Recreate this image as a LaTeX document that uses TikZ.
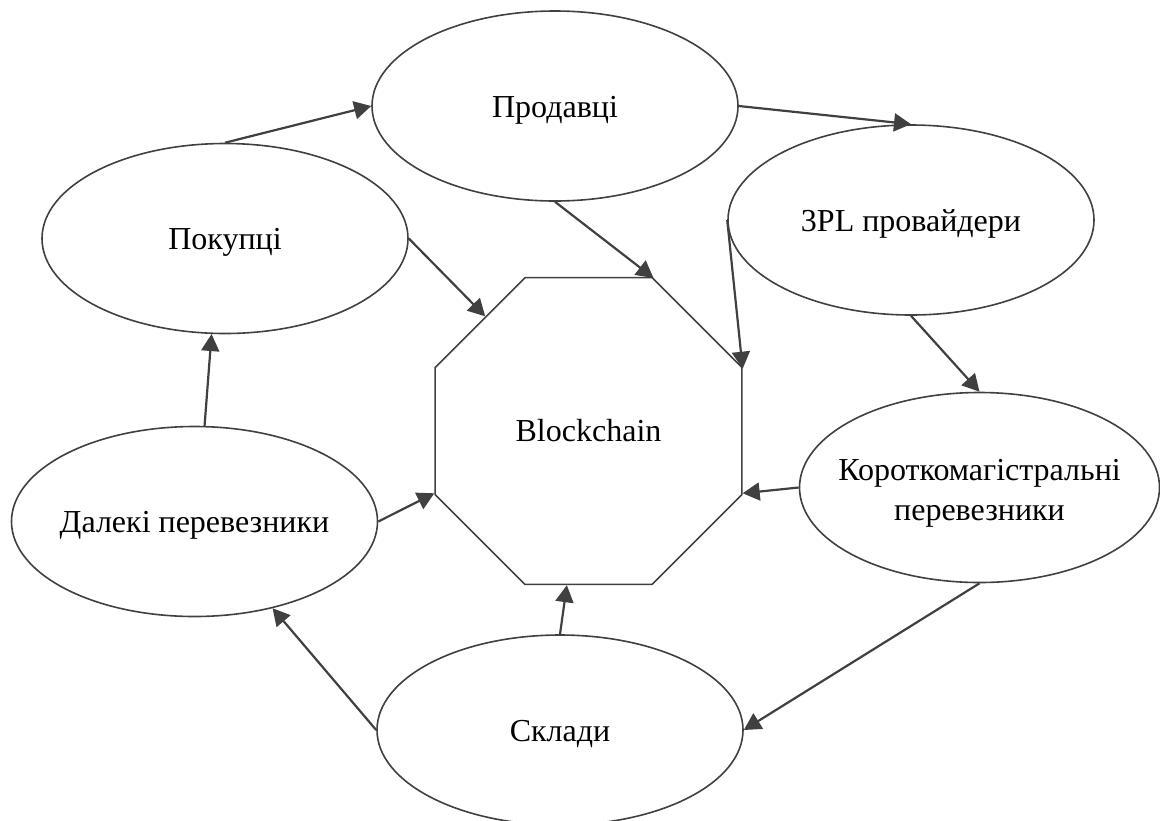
\documentclass[tikz,border=0pt]{standalone}
\usepackage{fontspec}
\setmainfont{Liberation Serif}
\usetikzlibrary{shapes.geometric,arrows.meta}
\definecolor{ln}{HTML}{404040}
\begin{document}
\begin{tikzpicture}[x=0.5pt,y=-0.5pt,
  ell/.style={ellipse,draw=ln,line width=0.8pt,minimum width=183pt,minimum height=95pt,inner sep=0pt},
  txt/.style={font=\fontsize{16}{20}\selectfont,align=center,inner sep=0pt,yshift=-2pt},
  arr/.style={draw=ln,line width=1.1pt,-{Triangle[length=8.5pt,width=9pt]}}]
\useasboundingbox (0,0) rectangle (1160,820);
\node[ell,label={[txt]center:Продавці}] (prod) at (555,106) {};
\node[ell,label={[txt]center:Покупці}] (pok) at (225,238.5) {};
\node[ell,label={[txt]center:3PL провайдери}] (tpl) at (911,220) {};
\node[ell,label={[txt]center:Далекі перевезники}] (dal) at (194.5,521.5) {};
\node[ell,minimum width=180pt,label={[txt,yshift=-1pt]center:Короткомагістральні\\перевезники}] (kor) at (979.5,487.5) {};
\node[ell,label={[txt]center:Склади}] (skl) at (560,730) {};
\node[regular polygon,regular polygon sides=8,draw=ln,line width=0.8pt,minimum size=166pt,inner sep=0pt,font=\fontsize{16}{20}\selectfont] (bc) at (588.5,431) {Blockchain};
\draw[arr] (pok.north) -- (prod.west);
\draw[arr] (prod.east) -- (tpl.north);
\draw[arr] (prod.south) -- (bc.67.5);
\draw[arr] (pok.east) -- (bc.132.5);
\draw[arr] (tpl.west) -- (bc.22.5);
\draw[arr] (tpl.south) -- (kor.north);
\draw[arr] (kor.west) -- (bc.-22.5);
\draw[arr] (kor.south) -- (skl.east);
\draw[arr] (skl.north) -- (bc.-98.5);
\draw[arr] (skl.west) -- (dal.-48);
\draw[arr] (dal.east) -- (bc.202.5);
\draw[arr] (dal.84) -- (pok.-98);
\end{tikzpicture}
\end{document}
